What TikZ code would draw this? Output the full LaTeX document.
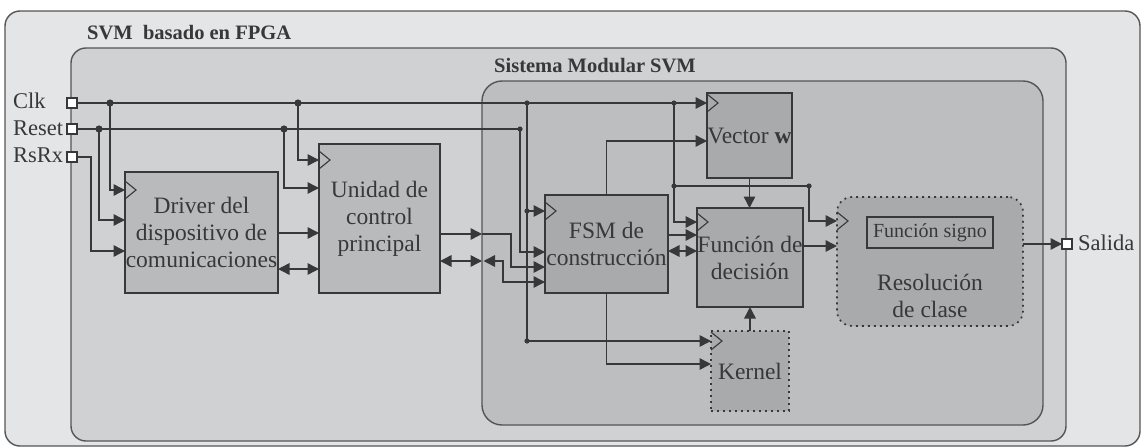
\documentclass[tikz,border=0pt]{standalone}
\usepackage{fontspec}
\setmainfont{Liberation Serif}
\usetikzlibrary{arrows.meta,calc}
\definecolor{cA}{HTML}{E4E5E7}
\definecolor{cB}{HTML}{D0D1D3}
\definecolor{cC}{HTML}{BDBEC0}
\definecolor{cD}{HTML}{B9BABC}
\definecolor{cE}{HTML}{A9AAAC}
\definecolor{lc}{HTML}{383838}
\definecolor{bc}{HTML}{555555}
\definecolor{tc}{HTML}{383838}
\tikzset{
  cont/.style={draw=bc, line width=1.4pt, inner sep=0pt, outer sep=0pt},
  blk/.style={draw=lc, line width=1.5pt, fill=cD, inner sep=0pt, outer sep=0pt, align=center, text=tc,
    font=\fontsize{23.5}{27}\selectfont},
  blkd/.style={blk, fill=cE},
  blkdot/.style={blk, fill=cE, line width=1.7pt, dash pattern=on 1.8pt off 4.2pt},
  ttl/.style={inner sep=0pt, text=tc, font=\fontsize{20.5}{24}\selectfont\bfseries},
  lbl/.style={inner sep=0pt, text=tc, font=\fontsize{22.5}{26}\selectfont},
  port/.style={draw=lc, fill=white, line width=1.2pt, minimum size=10pt, inner sep=0pt, outer sep=0pt},
  wire/.style={draw=lc, line width=1.5pt},
  arr/.style={wire, -{Triangle[length=11.5pt,width=11.5pt]}},
  biarr/.style={wire, {Triangle[length=11.5pt,width=11.5pt]}-{Triangle[length=11.5pt,width=11.5pt]}},
  clkm/.pic={\draw[lc, line width=1.1pt, line join=miter] (0,-9) -- (11,0) -- (0,9);}
}
\begin{document}
\begin{tikzpicture}[x=1pt,y=-1pt]
\useasboundingbox (0,0) rectangle (1141,447);
% containers
\node[cont, fill=cA, rounded corners=15pt, minimum width=1135pt, minimum height=435pt] (outer) at (572.5,228.5) {};
\node[cont, fill=cB, rounded corners=15pt, minimum width=995pt, minimum height=393pt] (svm) at (568.5,244.5) {};
\node[cont, fill=cC, rounded corners=20pt, minimum width=561pt, minimum height=344pt] (sys) at (762.5,253) {};
\node[ttl, anchor=west] (t1) at (87,33) {SVM\ \ basado en FPGA};
\node[ttl] (t2) at (595,66) {Sistema Modular SVM};
% blocks
\node[blk, minimum width=153pt, minimum height=121pt] (drv) at (201.5,232.5) {Driver del\\dispositivo de\\comunicaciones};
\node[blk, minimum width=121pt, minimum height=149pt] (uni) at (379.5,218.5) {Unidad de\\control\\principal};
\node[blkd, minimum width=123pt, minimum height=98pt] (fsm) at (606.5,244) {FSM de\\construcción};
\node[blkd, minimum width=85pt, minimum height=85pt] (vec) at (749.5,135.5) {Vector \textbf{w}};
\node[blkd, minimum width=106pt, minimum height=99pt] (fun) at (750,257.5) {Función de\\decisión};
\node[blkdot, minimum width=78pt, minimum height=80pt] (ker) at (750,371) {Kernel};
\node[blkdot, rounded corners=15pt, minimum width=186pt, minimum height=129pt] (res) at (930,261.5) {};
\node[blk, fill=cE, line width=1.3pt, minimum width=126pt, minimum height=31pt, font=\fontsize{20}{24}\selectfont] (sig) at (930,232.5) {Función signo};
\node[align=center, inner sep=0pt, text=tc, font=\fontsize{23.5}{27}\selectfont] (rtxt) at (930,296) {Resolución\\de clase};
% ports
\node[port] (clk) at (72,103) {};
\node[port] (rst) at (72,129) {};
\node[port] (rx) at (72,157) {};
\node[port] (sal) at (1067,244) {};
\node[lbl, anchor=west] (lclk) at (13,101) {Clk};
\node[lbl, anchor=west] (lrst) at (13,128) {Reset};
\node[lbl, anchor=west] (lrx) at (13,155) {RsRx};
\node[lbl, anchor=west] (lsal) at (1078,243) {Salida};
% junctions
\coordinate (j1) at (110,103);
\coordinate (j2) at (298,103);
\coordinate (j3) at (527,103);
\coordinate (j4) at (674,103);
\coordinate (j5) at (527,211);
\coordinate (j6) at (527,341);
\coordinate (j7) at (674,186);
\coordinate (j8) at (809,186);
\coordinate (r1) at (99,129);
\coordinate (r2) at (284,129);
\coordinate (r3) at (520,129);
\coordinate (q1) at (91,157);
\coordinate (b1) at (sys.west |- 0,234);
\coordinate (b2) at (sys.west |- 0,261);
\coordinate (b3) at ($(b2)+(1.5,0)$);
% clock wires
\draw[arr] (clk.east) -- (vec.west |- clk);
\draw[arr] (j1) |- (drv.west |- 0,190);
\draw[arr] (j2) |- (uni.west |- 0,160);
\draw[wire] (j3) -- (j6);
\draw[arr] (j5) -- (fsm.west |- j5);
\draw[arr] (j6) -- (ker.west |- j6);
\draw[arr] (j4) |- (fun.west |- 0,222);
\draw[wire] (j7) -- (j8);
\draw[arr] (j8) |- (res.west |- 0,221);
% reset wires
\draw[wire] (rst.east) -- (r3);
\draw[arr] (r1) |- (drv.west |- 0,220);
\draw[arr] (r2) |- (uni.west |- 0,188);
\draw[arr] (r3) |- (fsm.west |- 0,252);
% rx
\draw[arr] (rx.east) -- (q1) |- (drv.west |- 0,251);
% data
\draw[arr] (drv.east |- 0,233) -- (uni.west |- 0,233);
\draw[biarr] (drv.east |- 0,269) -- (uni.west |- 0,269);
\draw[arr] (uni.east |- b1) -- (b1);
\draw[arr] (b1) -- (511,234) -- (511,267) -- (fsm.west |- 0,267);
\draw[biarr] (uni.east |- b2) -- (b2);
\draw[biarr] (b3) -- (503,261) -- (503,282) -- (fsm.west |- 0,282);
\draw[arr] (fsm.north) |- (vec.west |- 0,141);
\draw[arr] (fsm.east |- 0,235) -- (fun.west |- 0,235);
\draw[biarr] (fsm.east |- 0,251) -- (fun.west |- 0,251);
\draw[arr] (fsm.south) |- (ker.west |- 0,364);
\draw[arr] (vec.south) -- (vec.south |- fun.north);
\draw[arr] (ker.north) -- (ker.north |- fun.south);
\draw[arr] (fun.east |- 0,246) -- (res.west |- 0,246);
\draw[arr] (res.east |- sal) -- (sal.west);
% clock marks
\pic at (drv.west |- 0,190) {clkm};
\pic at (uni.west |- 0,160) {clkm};
\pic at (fsm.west |- 0,211) {clkm};
\pic at (vec.west |- 0,103) {clkm};
\pic at (fun.west |- 0,222) {clkm};
\pic at (res.west |- 0,221) {clkm};
\pic at (ker.west |- 0,341) {clkm};
% dots
\foreach \p in {j1,j2,r1,r2} \fill[lc] (\p) circle (3.6pt);
\foreach \p in {j3,j4,j5,j6,j7,j8,r3} \fill[lc] (\p) circle (2.6pt);
\end{tikzpicture}
\end{document}
